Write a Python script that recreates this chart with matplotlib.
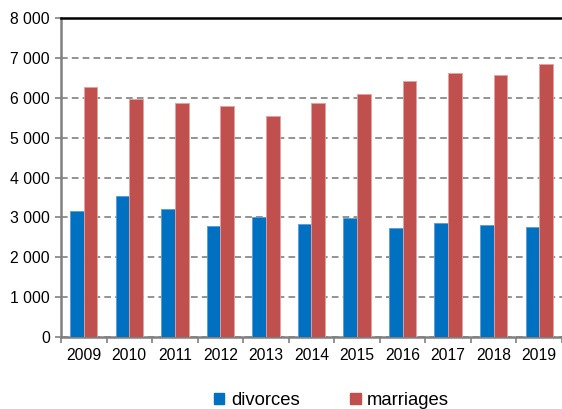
import matplotlib
matplotlib.use("Agg")
import matplotlib.pyplot as plt
from matplotlib.patches import Patch
import numpy as np

plt.rcParams['font.family'] = ['Liberation Sans', 'DejaVu Sans']

#Values
years = ['2009', '2010', '2011', '2012', '2013', '2014', '2015', '2016', '2017', '2018', '2019']
divorces = [3150, 3530, 3220, 2790, 3000, 2830, 2980, 2730, 2860, 2800, 2750]
marriages = [6270, 5980, 5880, 5800, 5540, 5860, 6090, 6410, 6610, 6560, 6840]

blue = '#0070C0'
red = '#C0504D'

fig = plt.figure(figsize=(5.62, 4.09), dpi=100)
ax = fig.add_axes([0.1085, 0.176, 0.8915, 0.78])

x = np.arange(len(years))
w = 0.3
ax.bar(x - w / 2, divorces, w, color=blue, edgecolor='#5b9bd5', linewidth=0.6, zorder=3)
ax.bar(x + w / 2, marriages, w, color=red, edgecolor='#e6a0a0', linewidth=0.6, zorder=3)

ax.set_xlim(-0.5, len(years) - 0.5)
ax.set_ylim(0, 8000)
ax.set_yticks(range(0, 8001, 1000))
ax.set_yticklabels(['{:,}'.format(v).replace(',', ' ') for v in range(0, 8001, 1000)])
ax.set_xticks(x)
ax.set_xticklabels(years)
ax.set_xticks(np.arange(-0.5, len(years), 1), minor=True)
ax.tick_params(axis='x', which='major', length=0, pad=8, labelsize=11.3)
ax.tick_params(axis='x', which='minor', length=4, color='#808080', width=1.2)
ax.tick_params(axis='y', length=4, color='#808080', width=1.2, labelsize=11.3, pad=4)

ax.yaxis.grid(True, linestyle=(0, (4, 2.5)), color='#808080', linewidth=1.2, zorder=0)
ax.set_axisbelow(True)

for s in ['left', 'bottom']:
    ax.spines[s].set_color('#808080')
    ax.spines[s].set_linewidth(1.8)
ax.spines['right'].set_visible(False)
ax.spines['top'].set_visible(False)
ax.axhline(8000, color='black', linewidth=1.8, zorder=4, clip_on=False)

handles = [Patch(color=blue, label='divorces'), Patch(color=red, label='marriages')]
fig.legend(handles=handles, loc='lower center', bbox_to_anchor=(0.59, -0.04), ncol=2,
           frameon=False, fontsize=13.3, handlelength=0.55, handleheight=0.55,
           handletextpad=0.35, columnspacing=2.75)

fig.savefig('out.png', dpi=100)
